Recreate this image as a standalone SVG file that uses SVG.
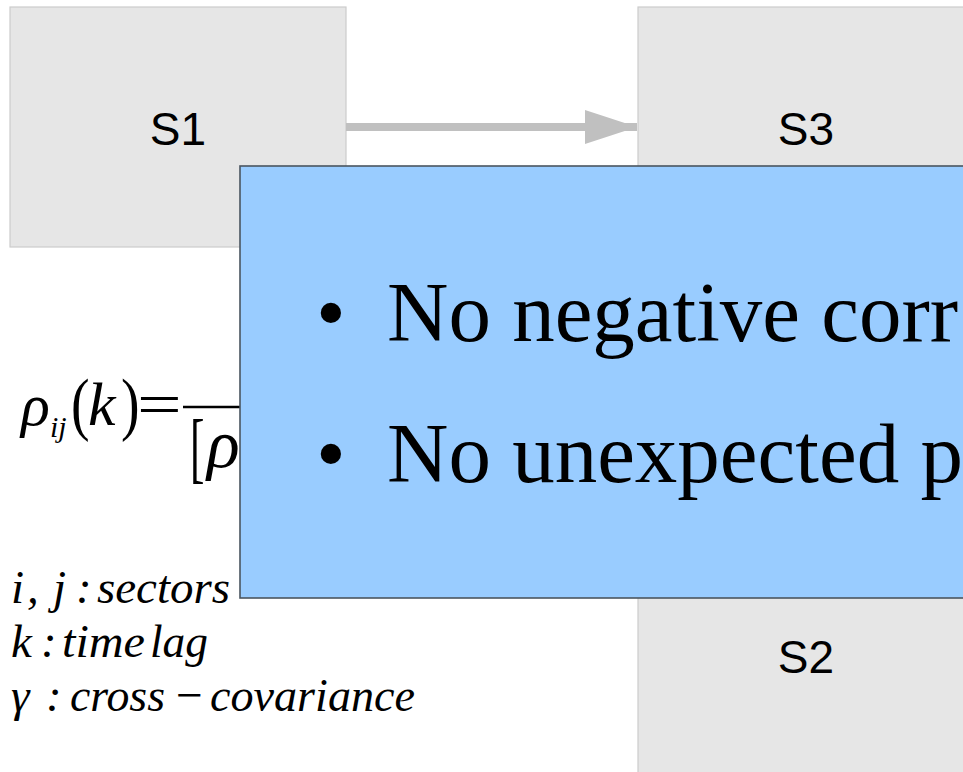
<svg xmlns="http://www.w3.org/2000/svg" width="963" height="772" viewBox="0 0 963 772">
  <style>
    .box { fill: #e6e6e6; stroke: #cccccc; stroke-width: 1.2; }
    .lbl { font-family: "Liberation Sans", Arial, sans-serif; font-size: 46px; fill: #000; text-anchor: middle; }
    .math { font-family: "Liberation Serif", "Times New Roman", serif; font-style: italic; fill: #000; }
    .up { font-family: "Liberation Serif", "Times New Roman", serif; fill: #000; }
    .bul { font-family: "Liberation Serif", "Times New Roman", serif; font-size: 85px; fill: #000; }
    .conn { stroke: #c0c0c0; stroke-width: 8; fill: none; }
  </style>
  <defs>
    <marker id="ah" markerUnits="userSpaceOnUse" markerWidth="52" markerHeight="34" refX="52" refY="17" orient="auto">
      <polygon points="0,0 52,17 0,34" fill="#c0c0c0"/>
    </marker>
  </defs>
  <rect width="963" height="772" fill="#ffffff"/>

  <g id="S1">
    <rect class="box" x="10" y="7" width="336" height="240"/>
    <text class="lbl" x="178" y="145">S1</text>
  </g>
  <g id="S3">
    <rect class="box" x="638" y="7" width="336" height="240"/>
    <text class="lbl" x="806" y="145">S3</text>
  </g>
  <g id="S2">
    <rect class="box" x="638" y="536" width="336" height="240"/>
    <text class="lbl" x="806" y="673">S2</text>
  </g>

  <g id="connectors">
    <line class="conn" x1="346" y1="127" x2="637" y2="127" marker-end="url(#ah)"/>
  </g>

  <g id="formula">
    <text class="math" font-size="60" x="21" y="425">ρ</text>
    <text class="math" font-size="30" x="50" y="437">ij</text>
    <text class="up" font-size="62" transform="translate(71,427) scale(0.9,1.12)">(</text>
    <text class="math" font-size="62" x="88" y="425">k</text>
    <text class="up" font-size="62" transform="translate(121,427) scale(0.9,1.12)">)</text>
    <text class="up" font-size="62" transform="translate(137,425) scale(1.28,1)">=</text>
    <line x1="183" y1="407" x2="242" y2="407" stroke="#000" stroke-width="2.5"/>
    <text class="up" font-size="62" transform="translate(190,474) scale(0.7,1.25)">[</text>
    <text class="math" font-size="68" x="207" y="467">ρ</text>
  </g>

  <g id="legend" class="math" font-size="47">
    <text y="603"><tspan x="11">i</tspan><tspan x="27">,</tspan><tspan x="53">j</tspan><tspan x="76">:</tspan><tspan x="97" textLength="133" lengthAdjust="spacingAndGlyphs">sectors</tspan></text>
    <text y="657"><tspan x="11">k</tspan><tspan x="41">:</tspan><tspan x="62" textLength="83" lengthAdjust="spacingAndGlyphs">time</tspan><tspan x="150" textLength="58" lengthAdjust="spacingAndGlyphs">lag</tspan></text>
    <text y="711"><tspan x="11">γ</tspan><tspan x="46">:</tspan><tspan x="70" textLength="95" lengthAdjust="spacingAndGlyphs">cross</tspan><tspan class="up" x="173" textLength="32" lengthAdjust="spacingAndGlyphs">−</tspan><tspan x="210" textLength="205" lengthAdjust="spacingAndGlyphs">covariance</tspan></text>
  </g>

  <g id="note">
    <rect x="240" y="166" width="760" height="432" fill="#99ccff" stroke="#4a5560" stroke-width="1.6"/>
    <text class="bul" x="316" y="341">•</text>
    <text class="bul" x="387" y="341">No negative corr</text>
    <text class="bul" x="316" y="482">•</text>
    <text class="bul" x="387" y="482">No unexpected p</text>
  </g>
</svg>
